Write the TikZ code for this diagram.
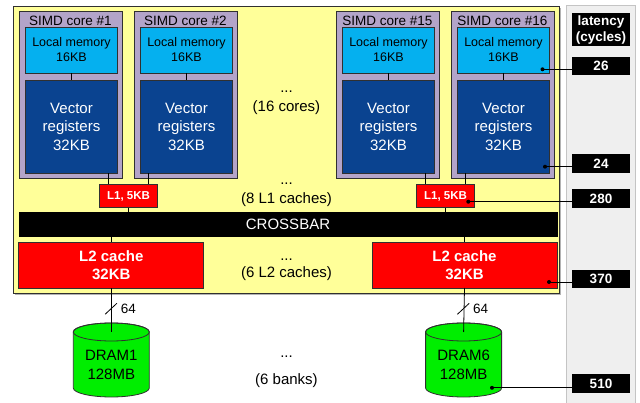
\documentclass[tikz,border=0pt]{standalone}
\usepackage{fontspec}
\setmainfont{Liberation Sans}
\usetikzlibrary{calc,shadows}

\definecolor{chipfill}{HTML}{FFFF99}
\definecolor{corefill}{HTML}{B3A4C9}
\definecolor{memfill}{HTML}{05B0EF}
\definecolor{regfill}{HTML}{0A4390}
\definecolor{cachefill}{HTML}{FF0000}
\definecolor{dramfill}{HTML}{00EE00}
\definecolor{latfill}{HTML}{EFEFEF}
\definecolor{latline}{HTML}{C4C4C4}
\definecolor{edge}{HTML}{303030}

\tikzset{
  base/.style={inner sep=0pt, outer sep=0pt, align=center},
  chip/.style={base, draw=edge, fill=chipfill, minimum width=546, minimum height=287,
    drop shadow={shadow xshift=2pt, shadow yshift=-2pt, opacity=0.6, fill=gray}},
  core/.style={base, draw=edge, fill=corefill, minimum width=103, minimum height=167},
  coretitle/.style={base, font=\fontsize{13.5}{15}\selectfont},
  localmem/.style={base, draw=edge, fill=memfill, minimum width=92, minimum height=46,
    font=\fontsize{12.5}{15}\selectfont},
  vecreg/.style={base, draw=edge, fill=regfill, text=white, minimum width=92, minimum height=93,
    font=\fontsize{15}{18.5}\selectfont},
  lone/.style={base, draw=edge, fill=cachefill, text=white, minimum width=57.5, minimum height=23.5,
    font=\fontsize{11.5}{13}\selectfont\bfseries},
  xbar/.style={base, draw=black, fill=black, text=white, minimum width=538, minimum height=24,
    font=\fontsize{15}{18}\selectfont},
  ltwo/.style={base, draw=edge, fill=cachefill, text=white, minimum width=185, minimum height=46,
    font=\fontsize{15}{17.5}\selectfont\bfseries},
  note/.style={base, font=\fontsize{15}{18}\selectfont},
  dramtext/.style={base, font=\fontsize{15}{19.3}\selectfont},
  buswidth/.style={base, font=\fontsize{13.5}{15}\selectfont},
  latcol/.style={base, draw=latline, fill=latfill, minimum width=69, minimum height=402},
  lat/.style={base, fill=black, text=white, minimum width=58.5, minimum height=18.5,
    font=\fontsize{13.5}{15.3}\selectfont\bfseries},
  wire/.style={draw=black, line width=0.8pt},
  dot/.style={fill=black},
}

\begin{document}
\begin{tikzpicture}[x=1pt, y=-1pt, line width=0.8pt]
\useasboundingbox (0,0) rectangle (640,403);

% latency column
\node[latcol] (latcol) at (601,206) {};

% chip outline
\node[chip] (chip) at (286,149.5) {};

% SIMD cores with local memory and vector registers
\foreach \n/\cx/\lab in {c1/70.5/1, c2/185.5/2, c15/387.5/15, c16/502.5/16}{
  \node[core] (\n) at (\cx,94.5) {};
  \node[coretitle] (\n-t) at (\cx,20.5) {SIMD core \#\lab};
  \node[localmem] (\n-m) at (\cx+1,50) {Local memory\\16KB};
  \node[vecreg] (\n-v) at (\cx+1,126.5) {Vector\\registers\\32KB};
  \draw[wire] (\n-m) -- (\n-v);
}

% L1 caches
\node[lone] (l1a) at (128.5,196) {L1, 5KB};
\node[lone] (l1b) at (445.5,196) {L1, 5KB};
\draw[wire] ([xshift=-20pt]l1a.north) -- ([xshift=-20pt]l1a.north |- c1-v.south);
\draw[wire] ([xshift=20pt]l1a.north) -- ([xshift=20pt]l1a.north |- c2-v.south);
\draw[wire] ([xshift=-20pt]l1b.north) -- ([xshift=-20pt]l1b.north |- c15-v.south);
\draw[wire] ([xshift=20pt]l1b.north) -- ([xshift=20pt]l1b.north |- c16-v.south);

% crossbar
\node[xbar] (xbar) at (288,224.7) {CROSSBAR};
\draw[wire] (l1a.south) -- (l1a.south |- xbar.north);
\draw[wire] (l1b.south) -- (l1b.south |- xbar.north);

% L2 caches
\node[ltwo] (l2a) at (111.3,265) {L2 cache\\32KB};
\node[ltwo] (l2b) at (464.5,265) {L2 cache\\32KB};
\draw[wire] (l2a.north) -- (l2a.north |- xbar.south);
\draw[wire] (l2b.north) -- (l2b.north |- xbar.south);

% ellipsis notes
\node[note] (dots1) at (286.5,92) {...};
\node[note] (ncores) at (286.5,107.7) {(16 cores)};
\node[note] (dots2) at (286.5,184) {...};
\node[note] (nl1) at (286.5,199.3) {(8 L1 caches)};
\node[note] (dots3) at (286.5,259.3) {...};
\node[note] (nl2) at (286.5,273.8) {(6 L2 caches)};
\node[note] (dots4) at (286.5,357) {...};
\node[note] (nbanks) at (286.5,380.5) {(6 banks)};

% DRAM banks
\foreach \n/\cx/\lab/\up in {d1/111.3/DRAM1/l2a, d6/463.6/DRAM6/l2b}{
  \filldraw[fill=dramfill, draw=edge] (\cx-38,332) -- (\cx-38,388)
    arc[start angle=180, end angle=0, x radius=38, y radius=9]
    -- (\cx+38,332)
    arc[start angle=0, end angle=-180, x radius=38, y radius=9] -- cycle;
  \draw[edge] (\cx,332) ellipse[x radius=38, y radius=9];
  \coordinate (\n-top) at (\cx,332);
  \node[dramtext] (\n) at (\cx,364.7) {\lab\\128MB};
  \draw[wire] (\up.south) -- (\n-top);
  \coordinate (\n-s) at (\cx-0.3,308.8);
  \draw[wire] ([shift={(-5.9,5.5)}]\n-s) -- ([shift={(5.9,-5.5)}]\n-s);
  \node[buswidth] (\n-w) at (\cx+17,309.3) {64};
}

% latency labels
\node[lat, minimum height=33] (lhead) at (601,30) {latency\\(cycles)};
\node[lat] (l26) at (601,66) {26};
\node[lat] (l24) at (601,163.5) {24};
\node[lat] (l280) at (601,198.5) {280};
\node[lat] (l370) at (601,279) {370};
\node[lat] (l510) at (601,383.5) {510};

% latency pointers
\coordinate (p26) at (542.5,69.3);
\coordinate (p24) at (545,166.7);
\coordinate (p280) at (468.3,201.7);
\coordinate (p370) at (549,282);
\coordinate (p510) at (492,387.8);
\foreach \p/\b in {p26/l26, p24/l24, p280/l280, p370/l370, p510/l510}{
  \draw[wire] (\p) -- (\p -| \b.west);
  \fill[dot] (\p) circle (2pt);
}
\end{tikzpicture}
\end{document}
